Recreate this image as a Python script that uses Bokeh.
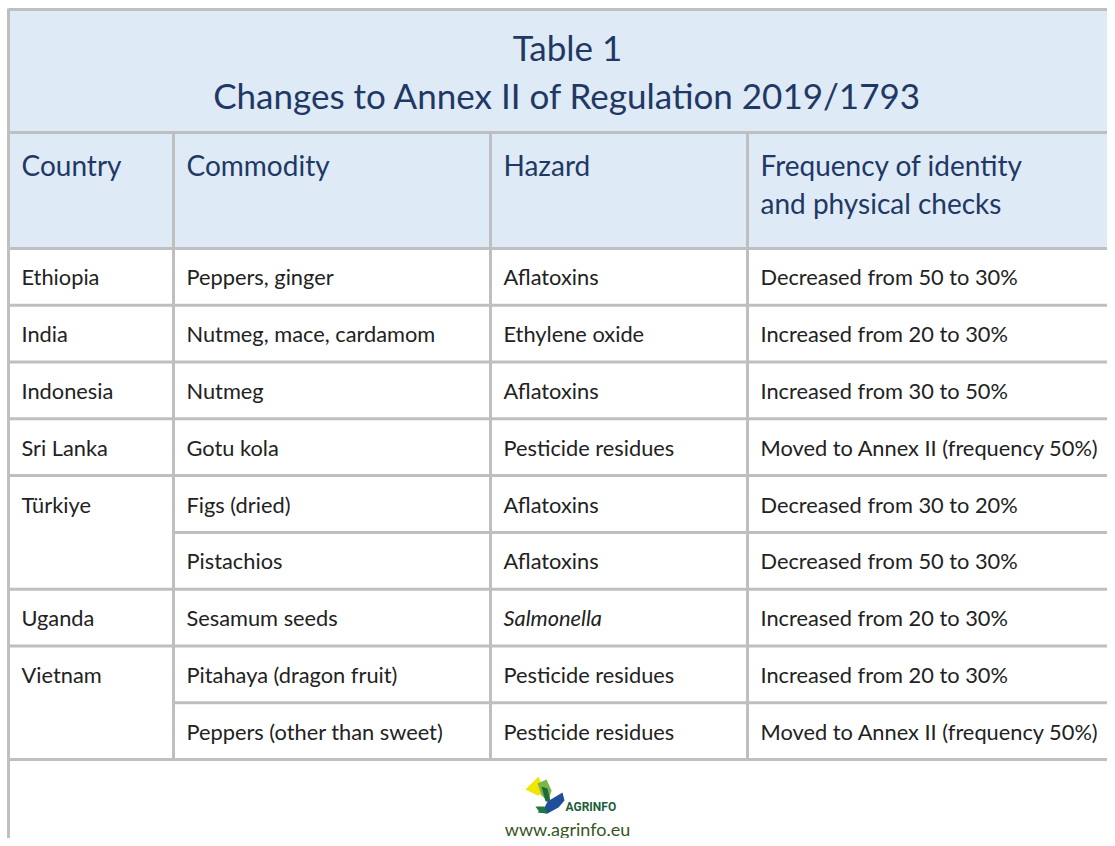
from bokeh.plotting import figure
from bokeh.models import Range1d, ColumnDataSource
from bokeh.core.properties import value
from bokeh.embed import file_html
from bokeh.resources import INLINE

# ---- data ----
title_lines = ["Table 1", "Changes to Annex II of Regulation 2019/1793"]
header_lines = [["Country"], ["Commodity"], ["Hazard"], ["Frequency of identity", "and physical checks"]]
countries = ["Ethiopia", "India", "Indonesia", "Sri Lanka", "Türkiye", "", "Uganda", "Vietnam", ""]
commodities = ["Peppers, ginger", "Nutmeg, mace, cardamom", "Nutmeg", "Gotu kola", "Figs (dried)",
               "Pistachios", "Sesamum seeds", "Pitahaya (dragon fruit)", "Peppers (other than sweet)"]
hazards = ["Aflatoxins", "Ethylene oxide", "Aflatoxins", "Pesticide residues", "Aflatoxins",
           "Aflatoxins", "Salmonella", "Pesticide residues", "Pesticide residues"]
italic_hazards = ["Salmonella"]
frequencies = ["Decreased from 50 to 30%", "Increased from 20 to 30%", "Increased from 30 to 50%",
               "Moved to Annex II (frequency 50%)", "Decreased from 30 to 20%", "Decreased from 50 to 30%",
               "Increased from 20 to 30%", "Increased from 20 to 30%", "Moved to Annex II (frequency 50%)"]
footer_url = "www.agrinfo.eu"
logo_word = "AGRINFO"

# ---- layout (screen pixel coordinates) ----
W, H = 1107, 838
col_x = [8, 173, 490, 747, 1130]
title_top, header_top, body_top, body_bottom = 9, 132, 248, 759
n = len(countries)
row_h = (body_bottom - body_top) / n
pad = 13
FONT = "Lato"
NAVY = "#1F3864"
TXT = "#222222"
GRID = "#BFBFBF"
HEAD_BG = "#DEEAF6"

p = figure(width=W, height=H, x_range=Range1d(0, W), y_range=Range1d(H, 0),
           output_backend="svg", toolbar_location=None, min_border=0)
p.axis.visible = False
p.grid.visible = False
p.outline_line_color = None
p.background_fill_color = "white"
p.border_fill_color = "white"

# header backgrounds
p.quad(left=[col_x[0]], right=[col_x[-1]], top=[title_top], bottom=[body_top],
       fill_color=HEAD_BG, line_color=None)

# title
cx = 567
p.text(x=[cx, cx], y=[46, 94], text=title_lines, text_align="center", text_baseline="middle",
       text_font=value(FONT), text_font_size="35px", text_color=NAVY)

# header labels
hx, hy, ht = [], [], []
for j, lines in enumerate(header_lines):
    for k, s in enumerate(lines):
        hx.append(col_x[j] + pad)
        hy.append(164 + 38 * k)
        ht.append(s)
p.text(x=hx, y=hy, text=ht, text_align="left", text_baseline="middle",
       text_font=value(FONT), text_font_size="28px", text_color=NAVY)

# body text
bx, by, bt, bs = [], [], [], []
for i in range(n):
    yc = body_top + row_h * (i + 0.5)
    for j, col in enumerate([countries, commodities, hazards, frequencies]):
        if col[i]:
            bx.append(col_x[j] + pad)
            by.append(yc)
            bt.append(col[i])
            bs.append("italic" if col[i] in italic_hazards else "normal")
src = ColumnDataSource(dict(x=bx, y=by, text=bt, style=bs))
p.text(x="x", y="y", text="text", source=src, text_align="left", text_baseline="middle",
       text_font=value(FONT), text_font_size="21.8px", text_color=TXT, text_font_style="style")

# grid lines
x0s, y0s, x1s, y1s = [], [], [], []
for yy in [title_top, header_top, body_top]:
    x0s.append(col_x[0]); x1s.append(col_x[-1]); y0s.append(yy); y1s.append(yy)
for i in range(1, n + 1):
    yy = body_top + row_h * i
    start = col_x[1] if (i < n and countries[i] == "") else col_x[0]
    x0s.append(start); x1s.append(col_x[-1]); y0s.append(yy); y1s.append(yy)
x0s.append(col_x[0]); x1s.append(col_x[0]); y0s.append(title_top - 1); y1s.append(860)
for xx in col_x[1:4]:
    x0s.append(xx); x1s.append(xx); y0s.append(header_top); y1s.append(body_bottom)
p.segment(x0=x0s, y0=y0s, x1=x1s, y1=y1s, line_color=GRID, line_width=3)

# logo
p.patch(x=[525, 538, 545, 537], y=[789, 776, 793, 795], fill_color="#F2E600", line_color=None)
p.patch(x=[537, 546, 551, 548, 541], y=[783, 779, 790, 801, 795], fill_color="#7AB648", line_color=None)
p.patch(x=[541, 547, 550, 545], y=[786, 788, 801, 801], fill_color="#1E6B3A", line_color=None)
p.patch(x=[547, 562, 564, 558, 547, 537, 544], y=[801, 792, 800, 807, 813, 812, 807],
        fill_color="#1F4E9A", line_color=None)
p.patch(x=[535, 544, 547, 539], y=[806, 806, 813, 812], fill_color="#1E7A3A", line_color=None)
p.text(x=[565], y=[806], text=[logo_word], text_align="left", text_baseline="middle",
       text_font=value("Roboto"), text_font_size="12px", text_font_style="bold", text_color="#1E5E3A")
p.text(x=[cx], y=[828], text=[footer_url], text_align="center", text_baseline="middle",
       text_font=value(FONT), text_font_size="18px", text_color="#375623")

open("out.html", "w").write(file_html(p, INLINE))
